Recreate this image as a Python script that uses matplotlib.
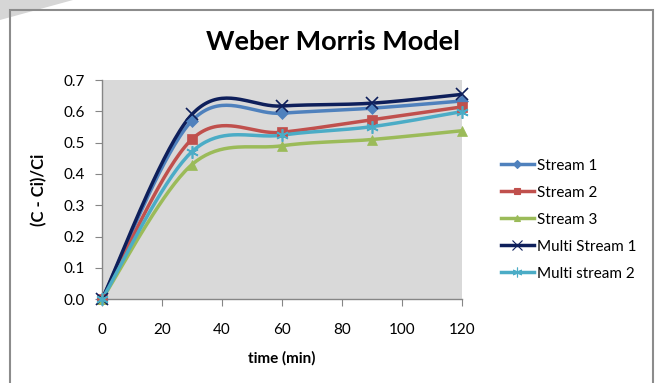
import numpy as np
import matplotlib
matplotlib.use("Agg")
import matplotlib.pyplot as plt
from matplotlib.patches import Rectangle, Polygon
from matplotlib.lines import Line2D

plt.rcParams['font.family'] = ['Lato', 'DejaVu Sans']

time_min = [0, 30, 60, 90, 120]
stream1 = [0, 0.57, 0.594, 0.61, 0.633]
stream2 = [0, 0.511, 0.533, 0.573, 0.614]
stream3 = [0, 0.43, 0.49, 0.51, 0.538]
multi1 = [0, 0.59, 0.617, 0.626, 0.654]
multi2 = [0, 0.471, 0.524, 0.551, 0.599]

names = ["Stream 1", "Stream 2", "Stream 3", "Multi Stream 1", "Multi stream 2"]
colors = ["#4F81BD", "#C0504D", "#9BBB59", "#0E1F5B", "#4BACC6"]
markers = ["D", "s", "^", "x", (6, 2, 0)]
msizes = [6, 7, 7, 9, 9]


def smooth(xs, ys, n=40):
    # bezier smoothing like excel "smoothed line"
    p = np.column_stack([xs, ys]).astype(float)
    p = np.vstack([p[0], p, p[-1]])
    out = []
    t = np.linspace(0, 1, n)[:, None]
    for i in range(1, len(p) - 2):
        p0, p1, p2, p3 = p[i - 1], p[i], p[i + 1], p[i + 2]
        c1 = p1 + (p2 - p0) / 6
        c2 = p2 - (p3 - p1) / 6
        seg = (1 - t) ** 3 * p1 + 3 * (1 - t) ** 2 * t * c1 + 3 * (1 - t) * t ** 2 * c2 + t ** 3 * p2
        out.append(seg)
    out = np.vstack(out)
    return out[:, 0], out[:, 1]


W, H = 657, 383
fig = plt.figure(figsize=(W / 100, H / 100), dpi=100)

# outer frame + corner wedge
fig.patches.append(Polygon([[0, 1], [73 / W, 1], [0, 1 - 20 / H]], closed=True,
                           transform=fig.transFigure, facecolor="#D6D6D6", edgecolor="none"))
fig.patches.append(Rectangle((10 / W, -0.05), 643 / W, 1.05 - 10 / H, transform=fig.transFigure,
                             facecolor="none", edgecolor="#8C8C8C", linewidth=1.5))

ax = fig.add_axes([102 / W, (H - 299.3) / H, (461.7 - 102) / W, (299.3 - 80) / H])
ax.set_facecolor("#D9D9D9")

series = [stream1, stream2, stream3, multi1, multi2]
handles = []
for vals, name, c, m, ms in zip(series, names, colors, markers, msizes):
    sx, sy = smooth(time_min, vals)
    ax.plot(sx, sy, color=c, linewidth=2.5, zorder=3)
    ax.plot(time_min, vals, linestyle="none", marker=m, markersize=ms, color=c,
            markeredgecolor=c, markeredgewidth=1.2 if m in ("x", (6, 2, 0)) else 0.5, zorder=4,
            clip_on=False)
    handles.append(Line2D([], [], color=c, linewidth=2.5, marker=m, markersize=ms - 2,
                          markeredgecolor=c, markeredgewidth=0.8))

ax.set_xlim(0, 120)
ax.set_ylim(0, 0.7)
ax.set_xticks(range(0, 121, 20))
ax.set_yticks(np.arange(0, 0.71, 0.1))
ax.set_yticklabels(["%.1f" % v for v in np.arange(0, 0.71, 0.1)])
for s in ["top", "right"]:
    ax.spines[s].set_visible(False)
for s in ["left", "bottom"]:
    ax.spines[s].set_color("#868686")
    ax.spines[s].set_linewidth(1)
ax.tick_params(direction="out", length=5, color="#868686", labelsize=11, pad=7)
ax.tick_params(axis="x", pad=12)

ax.set_xlabel("time (min)", fontsize=11, fontweight="bold", labelpad=10)
ax.set_ylabel("(C - Ci)/Ci", fontsize=12, fontweight="bold", labelpad=12)
fig.text(333 / W, 1 - 42 / H, "Weber Morris Model", fontsize=19.5, fontweight="bold",
         ha="center", va="center")

fig.legend(handles=handles, labels=names, loc="upper left",
           bbox_to_anchor=(493 / W, 1 - 151 / H), frameon=False, fontsize=11,
           handlelength=2.2, labelspacing=0.85, handletextpad=0.15, borderpad=0)

fig.savefig("out.png", dpi=100)
